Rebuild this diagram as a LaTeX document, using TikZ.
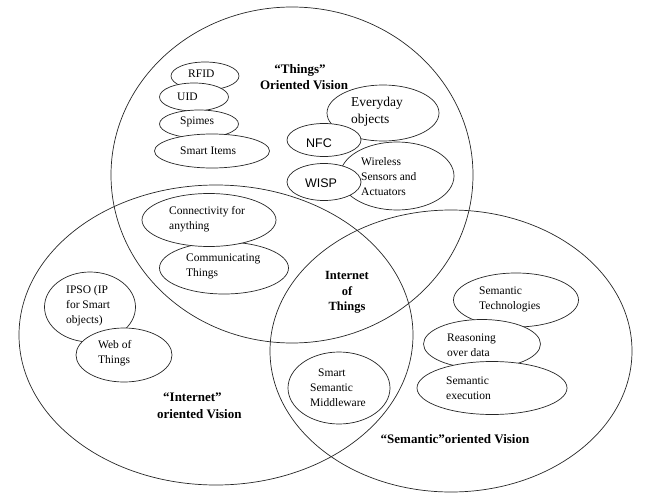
\documentclass[tikz,border=0pt]{standalone}
\usepackage{fontspec}
\setmainfont{Liberation Serif}
\newfontfamily\serf{Liberation Serif}
\newfontfamily\sansf{Liberation Sans}
\usetikzlibrary{shapes.geometric}
\begin{document}
\begin{tikzpicture}[x=1pt,y=-1pt,
  big/.style={ellipse, draw=black!85, line width=0.7pt, inner sep=0pt},
  oval/.style={ellipse, draw=black!85, fill=white, line width=0.7pt, inner sep=0pt},
  txt/.style={font=\serf\fontsize{11.5}{15}\selectfont, align=left, inner sep=0pt, anchor=west},
  bigtxt/.style={font=\serf\fontsize{13.5}{17}\selectfont, align=left, inner sep=0pt, anchor=west},
  sanstxt/.style={font=\sansf\fontsize{12.5}{15}\selectfont, inner sep=0pt},
  head/.style={font=\serf\bfseries\fontsize{13}{17}\selectfont, align=center, inner sep=0pt}
]
\useasboundingbox (0,0) rectangle (647,500);
% big circles
\node[big, minimum width=362pt, minimum height=336pt] (things) at (292,175) {};
\node[big, minimum width=394pt, minimum height=300pt] (internet) at (216,335) {};
\node[big, minimum width=362pt, minimum height=282pt] (semantic) at (451,351) {};
% things group
\node[oval, minimum width=68pt, minimum height=28pt] (rfid) at (205,76) {};
\node[oval, minimum width=69pt, minimum height=28pt] (uid) at (194,97) {};
\node[oval, minimum width=79pt, minimum height=28pt] (spimes) at (199,124) {};
\node[oval, minimum width=115pt, minimum height=34pt] (smartitems) at (212,151) {};
\node[txt] (trfid) at (188,74) {RFID};
\node[txt] (tuid) at (177,97) {UID};
\node[txt] (tspimes) at (180,122) {Spimes};
\node[txt] (tsmartitems) at (180,151) {Smart Items};
\node[oval, minimum width=112pt, minimum height=56pt] (everyday) at (383,113) {};
\node[oval, minimum width=114pt, minimum height=68pt] (wireless) at (397,176) {};
\node[oval, minimum width=74pt, minimum height=33pt] (nfc) at (324,140) {};
\node[oval, minimum width=74pt, minimum height=37pt] (wisp) at (324,182) {};
\node[bigtxt] (teveryday) at (351,111.5) {Everyday\\objects};
\node[txt] (twireless) at (361,177) {Wireless\\Sensors and\\Actuators};
\node[sanstxt] (tnfc) at (319,143) {NFC};
\node[sanstxt] (twisp) at (321,183) {WISP};
\node[head] (hthings) at (300,77.5) {“Things”\\[-1pt]\hspace*{8pt}Oriented Vision};
% internet group
\node[oval, minimum width=129pt, minimum height=52pt] (communicating) at (224,268) {};
\node[oval, minimum width=134pt, minimum height=53pt] (connectivity) at (209,220) {};
\node[txt] (tconnectivity) at (169,219.5) {Connectivity for\\anything};
\node[txt] (tcommunicating) at (186,266) {Communicating\\Things};
\node[oval, minimum width=91pt, minimum height=70pt] (ipso) at (90,307) {};
\node[oval, minimum width=96pt, minimum height=54pt] (web) at (124,355) {};
\node[txt] (tipso) at (66,306) {IPSO (IP\\for Smart\\objects)};
\node[txt] (tweb) at (98,353.5) {Web of\\Things};
\node[head, align=left, anchor=west] (hinternet) at (157,405.5) {\hspace*{6pt}“Internet”\\oriented Vision};
% center
\node[head, font=\serf\bfseries\fontsize{12.5}{15.5}\selectfont] (hiot) at (347,292.5) {Internet\\of\\Things};
% semantic group
\node[oval, minimum width=102pt, minimum height=72pt] (middleware) at (339,388) {};
\node[txt] (tmiddleware) at (310,387.5) {\hspace*{8pt}Smart\\Semantic\\Middleware};
\node[oval, minimum width=125pt, minimum height=54pt] (semtech) at (516,300) {};
\node[oval, minimum width=117pt, minimum height=49pt] (reasoning) at (482,344) {};
\node[oval, minimum width=150pt, minimum height=53pt] (semexec) at (492,388) {};
\node[txt] (tsemtech) at (479,299.5) {Semantic\\Technologies};
\node[txt] (treasoning) at (447,345) {Reasoning\\over data};
\node[txt] (tsemexec) at (446,388.5) {Semantic\\execution};
\node[head] (hsemantic) at (455,439) {“Semantic”oriented Vision};
\end{tikzpicture}
\end{document}
